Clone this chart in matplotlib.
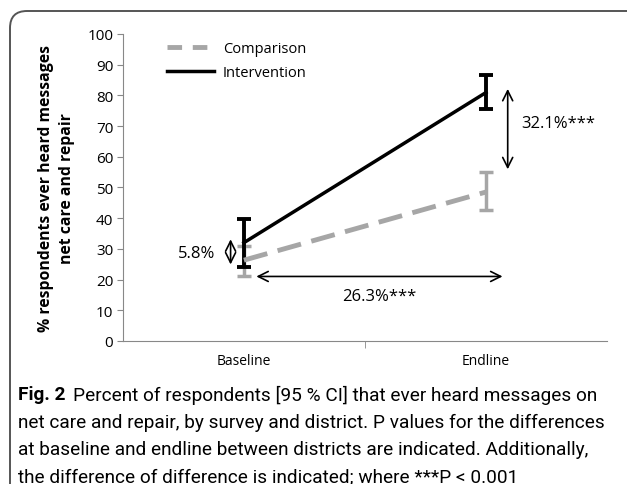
import matplotlib.pyplot as plt
from matplotlib.patches import FancyBboxPatch
from matplotlib.lines import Line2D

surveys = ['Baseline', 'Endline']
comparison = [26.3, 48.5]
comparison_lo = [21.2, 42.5]
comparison_hi = [30.8, 55.0]
intervention = [32.0, 80.9]
intervention_lo = [24.2, 75.5]
intervention_hi = [39.6, 86.7]

diff_labels = ['5.8%', '32.1%***', '26.3%***']

plt.rcParams['font.family'] = ['Open Sans', 'DejaVu Sans']

fig = plt.figure(figsize=(6.27, 4.85), dpi=100)
ax = fig.add_axes([0.196, 0.295, 0.772, 0.633])

x = list(range(len(surveys)))

def yerr(vals, lo, hi):
    return [[v - l for v, l in zip(vals, lo)], [h - v for v, h in zip(vals, hi)]]

gray = '#a6a6a6'
ax.errorbar(x, comparison, yerr=yerr(comparison, comparison_lo, comparison_hi),
            color=gray, lw=3.5, dashes=(5, 2.2), ecolor=gray,
            elinewidth=2.5, capsize=5, capthick=2.5)
ax.errorbar(x, intervention, yerr=yerr(intervention, intervention_lo, intervention_hi),
            color='black', lw=2.5, ecolor='black',
            elinewidth=2.8, capsize=5, capthick=2.8)

arrow = dict(arrowstyle='<->', color='black', lw=1.2, mutation_scale=18)
# baseline difference
ax.annotate('', xy=(-0.055, 24), xytext=(-0.055, 34), arrowprops=arrow)
ax.text(-0.12, 28.5, diff_labels[0], ha='right', va='center', fontsize=12)
# endline difference
ax.annotate('', xy=(1.09, 55), xytext=(1.09, 83), arrowprops=arrow)
ax.text(1.145, 71, diff_labels[1], ha='left', va='center', fontsize=12)
# difference of difference
ax.annotate('', xy=(0.04, 21), xytext=(1.08, 21), arrowprops=arrow)
ax.text(0.56, 14.5, diff_labels[2], ha='center', va='center', fontsize=12)

ax.set_xlim(-0.5, 1.5)
ax.set_ylim(0, 100)
ax.set_yticks(range(0, 101, 10))
ax.set_xticks(x)
ax.set_xticklabels(surveys, fontsize=10)
ax.set_xticks([0.5], minor=True)
ax.tick_params(axis='x', which='major', length=0, pad=9)
ax.tick_params(axis='x', which='minor', length=5, color='#888888')
ax.tick_params(axis='y', length=4, color='#888888', labelsize=11, pad=3)
for s in ['top', 'right']:
    ax.spines[s].set_visible(False)
ax.spines['left'].set_color('#888888')
ax.spines['bottom'].set_color('#888888')
ax.set_ylabel('% respondents ever heard messages\nnet care and repair',
              fontweight='bold', fontsize=11.3, labelpad=9, linespacing=1.35)

handles = [Line2D([], [], color=gray, lw=3.5, dashes=(3, 2.2)),
           Line2D([], [], color='black', lw=2.5)]
ax.legend(handles, ['Comparison', 'Intervention'], loc='upper left',
          bbox_to_anchor=(0.065, 1.02), frameon=False, fontsize=10.5,
          handlelength=3.2, handletextpad=0.6, labelspacing=0.65)

border = FancyBboxPatch((0.1, -0.3), 6.6, 5.03, boxstyle='round,pad=0,rounding_size=0.17',
                        transform=fig.dpi_scale_trans, facecolor='none',
                        edgecolor='#555555', lw=1.4)
fig.patches.append(border)

cap_font = ['Roboto', 'DejaVu Sans']
lines = ['net care and repair, by survey and district. P values for the differences',
         'at baseline and endline between districts are indicated. Additionally,',
         'the difference of difference is indicated; where ***P < 0.001']
fig.text(18 / 627, 1 - 395 / 485, 'Fig. 2', fontweight='bold', fontsize=13.7,
         family=cap_font, va='center')
fig.text(73 / 627, 1 - 395 / 485, 'Percent of respondents [95 % CI] that ever heard messages on',
         fontsize=13.7, family=cap_font, va='center')
for i, line in enumerate(lines):
    fig.text(18 / 627, 1 - (423 + 27 * i) / 485, line, fontsize=13.7, family=cap_font, va='center')

fig.savefig('out.png', dpi=100)
